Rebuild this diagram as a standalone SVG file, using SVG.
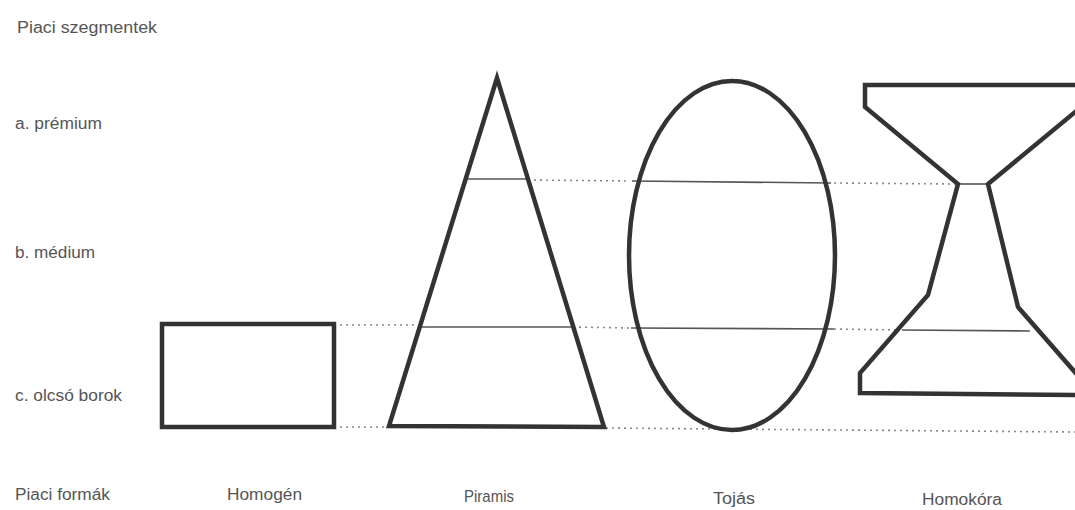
<svg xmlns="http://www.w3.org/2000/svg" width="1075" height="510" viewBox="0 0 1075 510">
<style>
.lbl{font-family:"Liberation Sans",Arial,sans-serif;font-size:16px;fill:#555}
.shape{fill:none;stroke:#333;stroke-width:4.5;stroke-linejoin:miter}
.thin{stroke:#555;stroke-width:1.6;fill:none}
.dot{stroke:#888;stroke-width:1.6;stroke-dasharray:2 4;fill:none}
</style>
<rect width="1075" height="510" fill="#fff"/>
<g id="labels">
<text class="lbl" x="17" y="33" textLength="140" lengthAdjust="spacingAndGlyphs">Piaci szegmentek</text>
<text class="lbl" x="15" y="129" textLength="87" lengthAdjust="spacingAndGlyphs">a. prémium</text>
<text class="lbl" x="15" y="258" textLength="80" lengthAdjust="spacingAndGlyphs">b. médium</text>
<text class="lbl" x="15" y="401" textLength="107" lengthAdjust="spacingAndGlyphs">c. olcsó borok</text>
<text class="lbl" x="15" y="500" textLength="95" lengthAdjust="spacingAndGlyphs">Piaci formák</text>
<text class="lbl" x="227" y="500" textLength="75" lengthAdjust="spacingAndGlyphs">Homogén</text>
<text class="lbl" x="464" y="502" textLength="50" lengthAdjust="spacingAndGlyphs">Piramis</text>
<text class="lbl" x="713" y="504" textLength="42" lengthAdjust="spacingAndGlyphs">Tojás</text>
<text class="lbl" x="922" y="505" textLength="80" lengthAdjust="spacingAndGlyphs">Homokóra</text>
</g>
<g id="connectors">
<line class="dot" x1="340" y1="325" x2="420" y2="325"/>
<line class="dot" x1="340" y1="427" x2="388" y2="427"/>
<line class="dot" x1="528" y1="180" x2="630" y2="181"/>
<line class="dot" x1="573" y1="327" x2="631" y2="328"/>
<line class="dot" x1="834" y1="183" x2="956" y2="184"/>
<line class="dot" x1="834" y1="329" x2="900" y2="330"/>
<line class="dot" x1="606" y1="428" x2="1075" y2="432"/>
<line class="thin" x1="466" y1="179" x2="527" y2="179"/>
<line class="thin" x1="422" y1="327" x2="572" y2="327"/>
<line class="thin" x1="632" y1="181" x2="831" y2="183"/>
<line class="thin" x1="631" y1="328" x2="834" y2="329"/>
<line class="thin" x1="958" y1="184" x2="988" y2="184"/>
<line class="thin" x1="902" y1="330" x2="1030" y2="331"/>
</g>
<g id="homogen">
<rect class="shape" x="162" y="324" width="172" height="103"/>
</g>
<g id="piramis">
<polygon class="shape" points="497,78 389,426 604,427"/>
</g>
<g id="tojas">
<ellipse class="shape" cx="732" cy="255.5" rx="103" ry="174.5"/>
</g>
<g id="homokora">
<path class="shape" d="M1080,85 L865,85 L865,107 L958,184 L928,295 L860,373 L860,393 L1080,395"/>
<path class="shape" d="M1080,108 L988,184 L1018,307 L1080,378"/>
</g>
</svg>
